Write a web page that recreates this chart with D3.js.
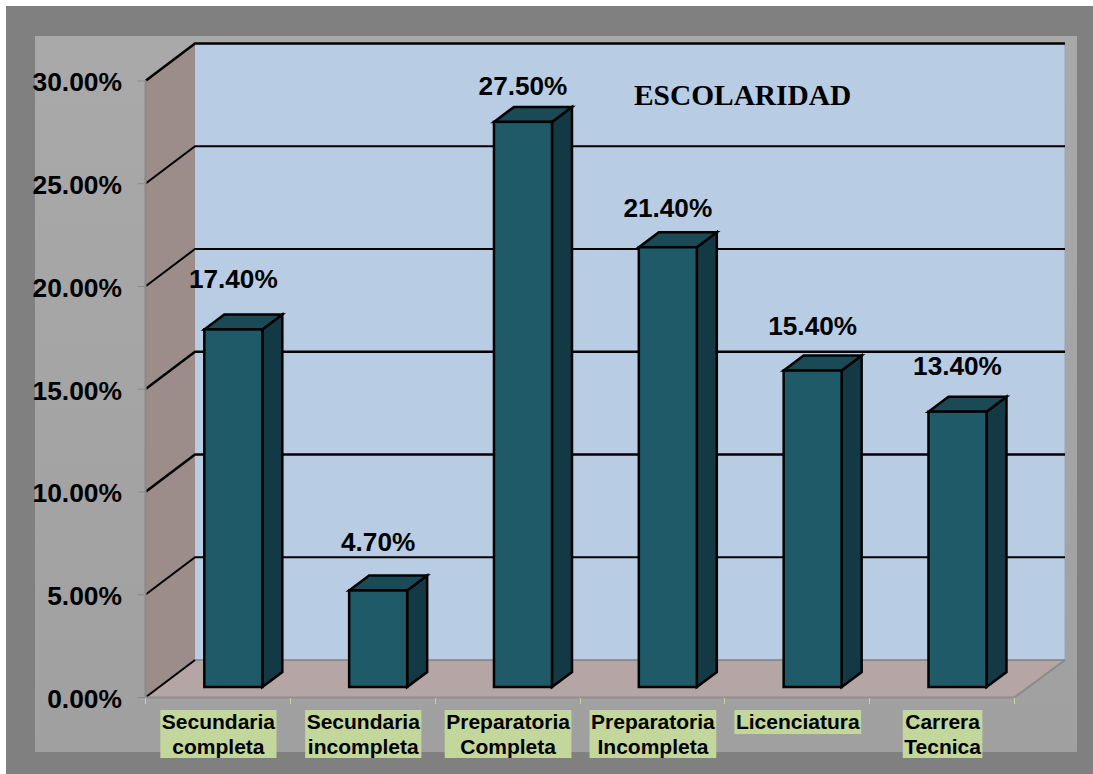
<!DOCTYPE html>
<html><head><meta charset="utf-8">
<script src="https://cdn.jsdelivr.net/npm/d3@7"></script>
<style>html,body{margin:0;padding:0;background:#fff}svg{display:block}</style>
</head><body>
<svg id="c" width="1093" height="774"></svg>
<script>
const categories = [["Secundaria","completa"],["Secundaria","incompleta"],["Preparatoria","Completa"],["Preparatoria","Incompleta"],["Licenciatura"],["Carrera","Tecnica"]];
const values = [17.4,4.7,27.5,21.4,15.4,13.4];
const yTicks = [0,5,10,15,20,25,30];
const chartTitle = "ESCOLARIDAD";
const labelLift = [50,48,36,39,45,46];

const W=1093,H=774;
const svg=d3.select("#c");
const defs=svg.append("defs");
const g=defs.append("linearGradient").attr("id","panel").attr("x1",0).attr("x2",0).attr("y1",0).attr("y2",1);
g.append("stop").attr("offset",0).attr("stop-color","#a9a9a9");
g.append("stop").attr("offset",1).attr("stop-color","#a0a0a0");

svg.append("rect").attr("x",6).attr("y",6).attr("width",W-6).attr("height",H-6).attr("fill","#808080");
svg.append("rect").attr("x",35).attr("y",36).attr("width",1042).attr("height",716).attr("fill","url(#panel)");

const left=146,right=1015,bottom=697,top30=80.5;
const wallDx=49,wallDy=-37;
const y=d3.scaleLinear().domain([0,30]).range([bottom,top30]);
const x=d3.scaleBand().domain(d3.range(categories.length)).range([left,right]);
const barW=58,barDx=20,barDy=-15,barShiftX=14.6,barShiftY=-10;

// walls
const poly=(pts,fill,stroke)=>svg.append("polygon").attr("points",pts.map(p=>p.join(",")).join(" ")).attr("fill",fill).attr("stroke",stroke||"none");
poly([[left+wallDx,y(30)+wallDy],[right+wallDx+1,y(30)+wallDy],[right+wallDx+1,bottom+wallDy],[left+wallDx,bottom+wallDy]],"#b8cce4");
poly([[left,y(30)],[left+wallDx,y(30)+wallDy],[left+wallDx,bottom+wallDy],[left,bottom]],"#9c8c8a");
poly([[left,bottom],[left+wallDx,bottom+wallDy],[right+wallDx+1,bottom+wallDy],[right,bottom]],"#b5a5a5");
svg.append("line").attr("x1",right).attr("y1",bottom).attr("x2",right+wallDx+1).attr("y2",bottom+wallDy).attr("stroke","#8a8a8a").attr("stroke-width",2);
svg.append("line").attr("x1",right+wallDx+1).attr("y1",y(30)+wallDy).attr("x2",right+wallDx+1).attr("y2",bottom+wallDy).attr("stroke","#9aa5b0").attr("stroke-width",1);
svg.append("line").attr("x1",left+wallDx).attr("y1",bottom+wallDy).attr("x2",right+wallDx+1).attr("y2",bottom+wallDy).attr("stroke","#7d8288").attr("stroke-width",1.5);

// gridlines
const grid=svg.append("g").attr("fill","none").attr("stroke","#000");
grid.selectAll("path").data(yTicks).join("path")
  .attr("stroke-width",d=>d===30?2.6:(d===10||d===15)?2.5:2)
  .attr("d",d=>d===0
    ? `M${left},${y(d)}L${left+wallDx},${y(d)+wallDy}`
    : `M${left},${y(d)}L${left+wallDx},${y(d)+wallDy}L${right+wallDx+1},${y(d)+wallDy}`);

// axes
const yAxis=svg.append("g").attr("transform",`translate(${left-0.5},0)`)
  .call(d3.axisLeft(y).tickValues(yTicks).tickSize(8).tickPadding(15.5).tickFormat(d=>d3.format(".2f")(d)+"%"));
yAxis.select(".domain").attr("stroke","#8a8a8a").attr("stroke-width",2).attr("d",`M0,${y(30)}V${bottom}`);
yAxis.selectAll(".tick line").attr("stroke","#8a8a8a").attr("stroke-width",1);
yAxis.selectAll(".tick text").attr("font-family","'Liberation Sans',Arial,sans-serif").attr("font-weight","bold").attr("font-size",26.4).attr("fill","#000").attr("dy","0.39em");

svg.append("line").attr("x1",left).attr("x2",right).attr("y1",bottom+0.5).attr("y2",bottom+0.5).attr("stroke","#8f8f8f").attr("stroke-width",2);
svg.append("g").selectAll("line").data(d3.range(categories.length+1)).join("line")
  .attr("x1",i=>Math.round(left+i*x.step())-0.5).attr("x2",i=>Math.round(left+i*x.step())-0.5)
  .attr("y1",bottom+1).attr("y2",bottom+7).attr("stroke","#c3d69b").attr("stroke-width",1);

// bars
const bars=svg.append("g").selectAll("g").data(values).join("g");
const bx=i=>x(i)+x.bandwidth()/2+barShiftX-barW/2+0.3;
const by=bottom+barShiftY;
const ty=v=>y(v)+barShiftY;
const line={stroke:"#000","stroke-width":2.5,"stroke-linejoin":"miter"};
function styled(s,fill){s.attr("fill",fill);for(const k in line)s.attr(k,line[k]);return s;}
bars.each(function(v,i){
  const s=d3.select(this),X=bx(i),T=ty(v);
  styled(s.append("polygon").attr("points",[[X+barW,T],[X+barW+barDx,T+barDy],[X+barW+barDx,by+barDy],[X+barW,by]].join(" ")),"#133a44");
  styled(s.append("polygon").attr("points",[[X,T],[X+barDx,T+barDy],[X+barW+barDx,T+barDy],[X+barW,T]].join(" ")),"#1a4a55");
  styled(s.append("rect").attr("x",X).attr("y",T).attr("width",barW).attr("height",by-T),"#1f5a68");
});

// value labels
svg.append("g").selectAll("text").data(values).join("text")
  .attr("x",(v,i)=>bx(i)+barW/2).attr("y",(v,i)=>ty(v)-labelLift[i]+9)
  .attr("text-anchor","middle").attr("font-family","'Liberation Sans',Arial,sans-serif").attr("font-weight","bold").attr("font-size",26.2).attr("fill","#000")
  .text(v=>d3.format(".2f")(v)+"%");

// category labels
const cats=svg.append("g").selectAll("g").data(categories).join("g").attr("transform",(c,i)=>`translate(${x(i)+x.bandwidth()/2},0)`);
cats.each(function(c){
  const s=d3.select(this);
  const r=s.append("rect").attr("fill","#c3d69b");
  const t=s.selectAll("text").data(c).join("text").attr("text-anchor","middle")
    .attr("font-family","'Liberation Sans',Arial,sans-serif").attr("font-weight","bold").attr("font-size",21).attr("fill","#000")
    .attr("y",(d,k)=>729+k*25).text(d=>d);
  const w=d3.max(t.nodes(),n=>n.getComputedTextLength())+3;
  r.attr("x",-w/2).attr("width",w).attr("y",710).attr("height",c.length*24);
});

svg.append("text").attr("x",634).attr("y",105).attr("font-family","'Liberation Serif','Times New Roman',serif").attr("font-weight","bold").attr("font-size",29.4).attr("fill","#000").text(chartTitle);
</script>
</body></html>
